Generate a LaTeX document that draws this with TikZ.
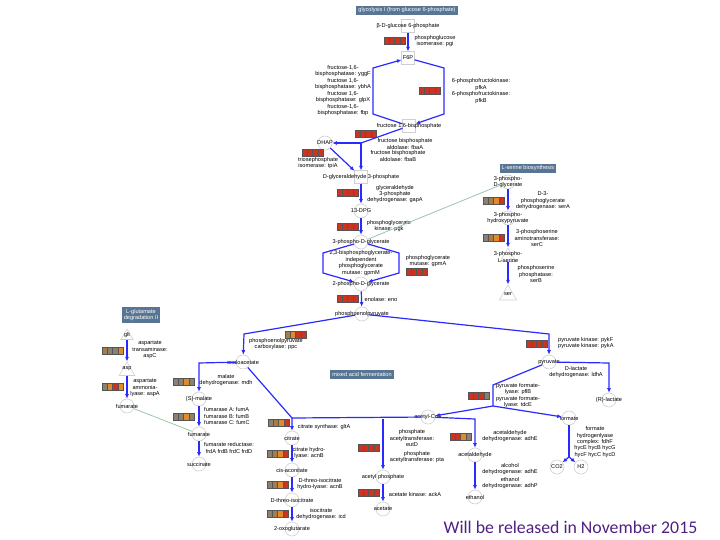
\documentclass[tikz,border=0pt]{standalone}
\usepackage{fontspec}
\setmainfont{Liberation Sans}
\newfontfamily\calibfont{Carlito}
\usetikzlibrary{arrows.meta,shapes.geometric}
\definecolor{rxblue}{HTML}{2A2AFF}
\definecolor{metgray}{HTML}{D0D0D0}
\definecolor{titlebg}{HTML}{587593}
\definecolor{linkgreen}{HTML}{9CC4A8}
\definecolor{barborder}{HTML}{555555}
\definecolor{cR}{HTML}{CC3322}
\definecolor{cO}{HTML}{E08A2A}
\definecolor{cB}{HTML}{A87C48}
\definecolor{cG}{HTML}{8C8070}
\definecolor{relpurple}{HTML}{4F2183}
\newcommand\smallfs{\fontsize{5.6}{6.4}\selectfont}
\newcommand\enzbar[6]{%
  \foreach \cc [count=\ii from 0] in {#3,#4,#5,#6}{%
    \filldraw[fill=\cc, draw=barborder, line width=.5pt] ({#1+\ii*5.25},{#2-3.5}) rectangle ++(5.25,7);}%
}
\tikzset{
  met/.style={circle, draw=metgray, minimum size=14pt, inner sep=0pt, line width=0.6pt},
  sqm/.style={rectangle, draw=metgray, minimum size=12.5pt, inner sep=0pt, line width=0.6pt},
  trim/.style={regular polygon, regular polygon sides=3, draw=metgray, inner sep=0pt, line width=0.6pt},
  lbl/.style={font=\smallfs, inner sep=0pt, align=center},
  enz/.style={font=\smallfs, inner sep=0pt, align=center},
  ttl/.style={fill=titlebg, text=white, font=\smallfs, inner sep=2pt, align=center},
  rx/.style={draw=rxblue, line width=1.2pt},
  rxa/.style={rx, -{Latex[length=4.5pt,width=4pt]}},
  lnk/.style={draw=linkgreen, line width=0.8pt},
}
\begin{document}
\begin{tikzpicture}[x=1pt,y=-1pt]
\useasboundingbox (0,0) rectangle (720,540);

% ---------------- titles
\node[ttl] (t1) at (407,10.5) {glycolysis I (from glucose 6-phosphate)};
\node[ttl] (t2) at (528,168.5) {L-serine biosynthesis};
\node[ttl] (t3) at (141,315) {L-glutamate\\degradation II};
\node[ttl] (t4) at (362,374.5) {mixed acid fermentation};

% ---------------- glycolysis metabolites
\node[sqm, label={[lbl]center:β-D-glucose 6-phosphate}] (g6p) at (408,26) {};
\node[sqm, label={[lbl]center:F6P}] (f6p) at (408,58) {};
\node[sqm, label={[lbl]center:fructose 1,6-bisphosphate}] (fbp) at (409,126) {};
\node[met, label={[lbl]center:DHAP}] (dhap) at (325,143) {};
\node[sqm, label={[lbl]center:D-glyceraldehyde 3-phosphate}] (gap) at (361,177) {};
\node[met, label={[lbl]center:13-DPG}] (dpg) at (361,211) {};
\node[met, label={[lbl]center:3-phospho-D-glycerate}] (pg3) at (361,242) {};
\node[met, label={[lbl]center:2-phospho-D-glycerate}] (pg2) at (361,284) {};
\node[met, label={[lbl]center:phosphoenolpyruvate}] (pep) at (362,314) {};

% ---------------- serine
\node[met, label={[lbl]center:3-phospho-\\D-glycerate}] (s3pg) at (508,182) {};
\node[met, label={[lbl]center:3-phospho-\\hydroxypyruvate}] (s3php) at (508,218) {};
\node[trim, minimum size=18pt, label={[lbl]center:3-phospho-\\L-serine}] (s3ps) at (508,257) {};
\node[trim, minimum size=20pt] (ser) at (508,295) {};
\node[lbl] (serl) at (508,294) {ser};

% ---------------- glutamate
\node[trim, minimum size=14pt] (glt) at (127,336) {};
\node[lbl] (gltl) at (127,335) {glt};
\node[trim, minimum size=18pt] (asp) at (127,371) {};
\node[lbl] (aspl) at (127,369) {asp};
\node[met, label={[lbl]center:fumarate}] (fumL) at (127,406) {};

% ---------------- TCA branch
\node[met, label={[lbl]center:oxaloacetate}] (oaa) at (243,362) {};
\node[met, label={[lbl]center:(S)-malate}] (mal) at (199,399) {};
\node[met, label={[lbl]center:fumarate}] (fumR) at (199,434) {};
\node[met, label={[lbl]center:succinate}] (succ) at (199,464) {};
\node[met, label={[lbl]center:citrate}] (cit) at (292,438) {};
\node[met, label={[lbl]center:cis-aconitate}] (aco) at (292,470) {};
\node[met, label={[lbl]center:D-threo-isocitrate}] (icit) at (292,500) {};
\node[met, label={[lbl]center:2-oxoglutarate}] (oxg) at (292,529) {};

% ---------------- fermentation
\node[met, label={[lbl]center:pyruvate}] (pyr) at (549,362) {};
\node[met, label={[lbl]center:(R)-lactate}] (rlac) at (609,400) {};
\node[met, label={[lbl]center:formate}] (form) at (569,418) {};
\node[met, label={[lbl]center:CO2}] (co2) at (557,467) {};
\node[met, label={[lbl]center:H2}] (h2) at (581,467) {};
\node[met, label={[lbl]center:acetyl-CoA}] (accoa) at (428,417) {};
\node[met, label={[lbl]center:acetyl phosphate}] (acp) at (383,477) {};
\node[met, label={[lbl]center:acetate}] (ac) at (383,509) {};
\node[met, label={[lbl]center:acetaldehyde}] (acald) at (475,455) {};
\node[met, label={[lbl]center:ethanol}] (etoh) at (475,497) {};

% ---------------- enzyme labels
\node[enz] (e1) at (435,41) {phosphoglucose\\isomerase: pgi};
\node[enz] (e2) at (343,71) {fructose-1,6-\\bisphosphatase: yggF};
\node[enz] (e3) at (343,84) {fructose 1,6-\\bisphosphatase: ybhA};
\node[enz] (e4) at (343,97) {fructose 1,6-\\bisphosphatase: glpX};
\node[enz] (e5) at (343,110) {fructose-1,6-\\bisphosphatase: fbp};
\node[enz] (e6) at (481,84.5) {6-phosphofructokinase:\\pfkA};
\node[enz] (e7) at (481,97.5) {6-phosphofructokinase:\\pfkB};
\node[enz] (e8) at (405,144) {fructose bisphosphate\\aldolase: fbaA};
\node[enz] (e9) at (398,156) {fructose bisphosphate\\aldolase: fbaB};
\node[enz] (e10) at (318,163) {triosephosphate\\isomerase: tpiA};
\node[enz] (e11) at (395,194) {glyceraldehyde\\3-phosphate\\dehydrogenase: gapA};
\node[enz] (e12) at (389,226) {phosphoglycerate\\kinase: pgk};
\node[enz] (e13) at (361,263) {2,3-bisphosphoglycerate-\\independent\\phosphoglycerate\\mutase: gpmM};
\node[enz] (e14) at (428,261) {phosphoglycerate\\mutase: gpmA};
\node[enz] (e15) at (381,299) {enolase: eno};
\node[enz] (e16) at (543,201) {D-3-\\phosphoglycerate\\dehydrogenase: serA};
\node[enz] (e17) at (537,238) {3-phosphoserine\\aminotransferase:\\serC};
\node[enz] (e18) at (536,274) {phosphoserine\\phosphatase:\\serB};
\node[enz] (e19) at (150,350) {aspartate\\transaminase:\\aspC};
\node[enz] (e20) at (145,388) {aspartate\\ammonia-\\lyase: aspA};
\node[enz] (e21) at (226,380) {malate\\dehydrogenase: mdh};
\node[enz, anchor=west, align=left] (e22) at (204,416) {fumarase A: fumA\\fumarase B: fumB\\fumarase C: fumC};
\node[enz] (e23) at (229,448) {fumarate reductase:\\frdA frdB frdC frdD};
\node[enz] (e24) at (276,344) {phosphoenolpyruvate\\carboxylase: ppc};
\node[enz] (e25) at (324,427) {citrate synthase: gltA};
\node[enz] (e26) at (309,453) {citrate hydro-\\lyase: acnB};
\node[enz] (e27) at (320,484) {D-threo-isocitrate\\hydro-lyase: acnB};
\node[enz] (e28) at (321,514) {isocitrate\\dehydrogenase: icd};
\node[enz] (e29) at (412,438) {phosphate\\acetyltransferase:\\eutD};
\node[enz] (e30) at (417,457) {phosphate\\acetyltransferase: pta};
\node[enz] (e31) at (415,494) {acetate kinase: ackA};
\node[enz] (e32) at (510,436) {acetaldehyde\\dehydrogenase: adhE};
\node[enz] (e33) at (510,469) {alcohol\\dehydrogenase: adhE};
\node[enz] (e34) at (510,483) {ethanol\\dehydrogenase: adhP};
\node[enz, anchor=west, align=left] (e35) at (558,343) {pyruvate kinase: pykF\\pyruvate kinase: pykA};
\node[enz] (e36) at (576,372) {D-lactate\\dehydrogenase: ldhA};
\node[enz] (e37) at (518,389) {pyruvate formate-\\lyase: pflB};
\node[enz] (e38) at (518,402) {pyruvate formate-\\lyase: tdcE};
\node[enz] (e39) at (595,442) {formate\\hydrogenlyase\\complex: fdhF\\hycE hycB hycG\\hycF hycC hycD};

% ---------------- expression bars
\enzbar{384}{41}{cR}{cR}{cR}{cR}
\enzbar{419}{91}{cR}{cR}{cR}{cR}
\enzbar{355}{134}{cR}{cR}{cR}{cR}
\enzbar{302}{153}{cR}{cR}{cR}{cR}
\enzbar{337}{193}{cR}{cR}{cR}{cR}
\enzbar{337}{227}{cR}{cR}{cR}{cR}
\enzbar{406}{272}{cR}{cR}{cR}{cR}
\enzbar{337}{299}{cR}{cR}{cR}{cR}
\enzbar{483}{201}{cG}{cB}{cO}{cR}
\enzbar{483}{238}{cG}{cB}{cO}{cR}
\enzbar{102}{351}{cB}{cG}{cG}{cO}
\enzbar{102}{387}{cG}{cO}{cR}{cO}
\enzbar{173}{382}{cG}{cG}{cO}{cG}
\enzbar{173}{417}{cG}{cG}{cO}{cG}
\enzbar{285}{335}{cB}{cO}{cR}{cR}
\enzbar{268}{423}{cG}{cB}{cO}{cR}
\enzbar{267}{454}{cG}{cB}{cO}{cR}
\enzbar{267}{485}{cG}{cB}{cO}{cR}
\enzbar{267}{514}{cG}{cB}{cO}{cR}
\enzbar{358}{448}{cR}{cR}{cR}{cR}
\enzbar{358}{493}{cR}{cR}{cR}{cR}
\enzbar{450}{437}{cR}{cR}{cO}{cG}
\enzbar{468}{396}{cR}{cR}{cR}{cG}
\enzbar{526}{344}{cR}{cR}{cR}{cR}

% ---------------- junction coordinates
\coordinate (hr1) at (444,68);
\coordinate (hr2) at (444,114);
\coordinate (hl1) at (373,68);
\coordinate (hl2) at (373,114);
\coordinate (j1) at (361,143);
\coordinate (ml1) at (323,253);
\coordinate (ml2) at (323,273);
\coordinate (mr1) at (399,253);
\coordinate (mr2) at (399,273);
\coordinate (pl) at (244,334);
\coordinate (pr) at (549,334);
\coordinate (om) at (199,363);
\coordinate (jc) at (292,418);
\coordinate (ja) at (383,419);
\coordinate (jb) at (475,419);
\coordinate (py1) at (493,385);
\coordinate (jp) at (493,406);
\coordinate (lac1) at (609,363);
\coordinate (jf) at (569,457);

% ---------------- green links
\draw[lnk] (pg3) -- (s3pg);
\draw[lnk] (fumL) -- (fumR);

% ---------------- reactions
\draw[rxa] (g6p) -- (f6p);
\draw[rxa] (f6p) -- (hr1) -- (hr2) -- (fbp);
\draw[rxa] (fbp) -- (hl2) -- (hl1) -- (f6p);
\draw[rx] (fbp) -- (j1);
\draw[rxa] (j1) -- (dhap);
\draw[rxa] (j1) -- (gap);
\draw[rxa] (dhap) -- (gap);
\draw[rxa] (gap) -- (dpg);
\draw[rxa] (dpg) -- (pg3);
\draw[rxa] (pg3) -- (ml1) -- (ml2) -- (pg2);
\draw[rxa] (pg3) -- (mr1) -- (mr2) -- (pg2);
\draw[rxa] (pg2) -- (pep);
\draw[rxa] (pep) -- (pl) -- (oaa);
\draw[rxa] (pep) -- (pr) -- (pyr);
\draw[rxa] (oaa) -- (om) -- (mal);
\draw[rxa] (mal) -- (fumR);
\draw[rxa] (fumR) -- (succ);
\draw[rxa] (oaa) -- (jc) -- (cit);
\draw[rx] (accoa) -- (jc);
\draw[rxa] (accoa) -- (jb) -- (acald);
\draw[rxa] (ja) -- (acp);
\draw[rxa] (cit) -- (aco);
\draw[rxa] (aco) -- (icit);
\draw[rxa] (icit) -- (oxg);
\draw[rxa] (acp) -- (ac);
\draw[rxa] (acald) -- (etoh);
\draw[rx] (pyr) -- (py1) -- (jp);
\draw[rxa] (jp) -- (accoa);
\draw[rxa] (jp) -- (form);
\draw[rxa] (pyr) -- (lac1) -- (rlac);
\draw[rx] (form) -- (jf);
\draw[rxa] (jf) -- (co2);
\draw[rxa] (jf) -- (h2);
\draw[rxa] (s3pg) -- (s3php);
\draw[rxa] (s3php) -- (s3ps);
\draw[rxa] (s3ps) -- (ser);
\draw[rxa] (glt) -- (asp);
\draw[rxa] (asp) -- (fumL);

% ---------------- note
\node[font=\calibfont\fontsize{17.8}{20}\selectfont, text=relpurple, inner sep=0pt] (note) at (570.5,527) {Will be released in November 2015};
\end{tikzpicture}
\end{document}
